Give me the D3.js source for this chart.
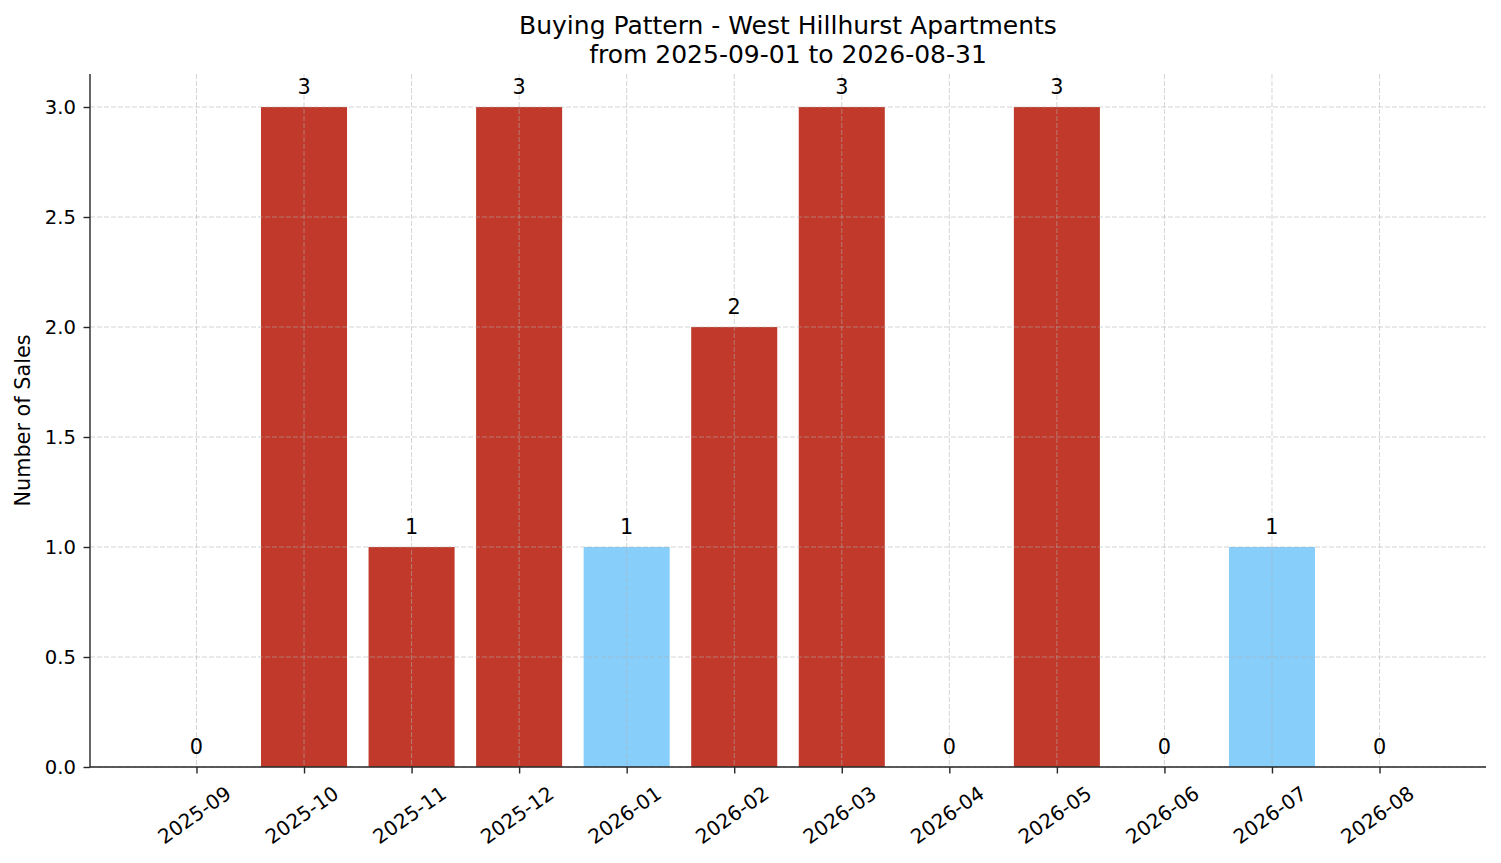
<!DOCTYPE html>
<html>
<head>
<meta charset="utf-8">
<script src="https://cdn.jsdelivr.net/npm/d3@7"></script>
<style>
html,body{margin:0;padding:0;background:#fff;}
svg{display:block;font-family:"DejaVu Sans",sans-serif;}
</style>
</head>
<body>
<svg id="chart" width="1501" height="863"></svg>
<script>
const months = ["2025-09","2025-10","2025-11","2025-12","2026-01","2026-02","2026-03","2026-04","2026-05","2026-06","2026-07","2026-08"];
const sales = [0,3,1,3,1,2,3,0,3,0,1,0];
const barColors = ["#c0392b","#c0392b","#c0392b","#c0392b","#87cefa","#c0392b","#c0392b","#c0392b","#c0392b","#c0392b","#87cefa","#c0392b"];
const yTicks = [0,0.5,1.0,1.5,2.0,2.5,3.0];
const titleLines = ["Buying Pattern - West Hillhurst Apartments","from 2025-09-01 to 2026-08-31"];
const yLabel = "Number of Sales";

const svg = d3.select("#chart");
const m = {left:90, right:1486, top:74, bottom:767};

const x = d3.scaleLinear().domain([-0.99, 11.99]).range([m.left, m.right]);
const y = d3.scaleLinear().domain([0, 3.15]).range([m.bottom, m.top]);
const bw = x(0.8) - x(0);

// bars
svg.append("g").selectAll("rect").data(sales).join("rect")
  .attr("x", (d,i)=>x(i-0.4))
  .attr("y", d=>y(d))
  .attr("width", bw)
  .attr("height", d=>y(0)-y(d))
  .attr("fill", (d,i)=>barColors[i]);

// grid (on top)
const grid = svg.append("g").attr("stroke","#b0b0b0").attr("stroke-opacity",0.6)
  .attr("stroke-width",0.9).attr("stroke-dasharray","5,2").attr("fill","none");
grid.selectAll("line.gy").data(yTicks).join("line").attr("class","gy")
  .attr("x1",m.left).attr("x2",m.right).attr("y1",d=>y(d)).attr("y2",d=>y(d));
grid.selectAll("line.gx").data(months).join("line").attr("class","gx")
  .attr("x1",(d,i)=>x(i)).attr("x2",(d,i)=>x(i)).attr("y1",m.top).attr("y2",m.bottom);

// y axis
const yAxis = d3.axisLeft(y).tickValues(yTicks).tickFormat(d3.format(".1f")).tickSize(6.5).tickPadding(7.5);
const gy = svg.append("g").attr("transform",`translate(${m.left},0)`).call(yAxis);
gy.select(".domain").attr("stroke","#262626").attr("stroke-width",1.4).attr("d",`M0,${m.top}V${m.bottom}`);
gy.selectAll(".tick line").attr("stroke","#262626").attr("stroke-width",1.4);
gy.selectAll(".tick text").attr("font-size",19.6).attr("fill","#000").attr("font-family","DejaVu Sans");

// x axis
const xAxis = d3.axisBottom(x).tickValues(d3.range(months.length)).tickFormat(i=>months[i]).tickSize(6.5).tickPadding(6);
const gx = svg.append("g").attr("transform",`translate(0,${m.bottom})`).call(xAxis);
gx.select(".domain").attr("stroke","#262626").attr("stroke-width",1.4).attr("d",`M${m.left},0H${m.right}`);
gx.selectAll(".tick line").attr("stroke","#262626").attr("stroke-width",1.4);
gx.selectAll(".tick text").attr("font-size",20).attr("fill","#000").attr("font-family","DejaVu Sans")
  .attr("text-anchor","middle").attr("y",0).attr("dy","0.35em")
  .attr("transform","translate(-2.5,48) rotate(-35)");

// value labels
svg.append("g").selectAll("text").data(sales).join("text")
  .attr("x",(d,i)=>x(i)).attr("y",d=>y(d)-13)
  .attr("text-anchor","middle").attr("font-size",20.8).attr("fill","#000")
  .text(d=>d);

// title
svg.append("g").selectAll("text").data(titleLines).join("text")
  .attr("x",(m.left+m.right)/2).attr("y",(d,i)=>34+i*28.5)
  .attr("text-anchor","middle").attr("font-size",25).attr("fill","#000")
  .text(d=>d);

// y label
svg.append("text").attr("transform",`translate(30,${(m.top+m.bottom)/2}) rotate(-90)`)
  .attr("text-anchor","middle").attr("font-size",20.8).attr("fill","#000").text(yLabel);
</script>
</body>
</html>
